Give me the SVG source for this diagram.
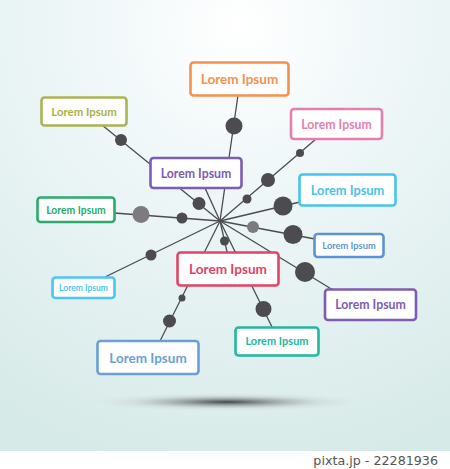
<svg xmlns="http://www.w3.org/2000/svg" width="450" height="469" viewBox="0 0 450 469">
<defs>
<radialGradient id="bg" cx="0.53" cy="0.06" r="1.0" gradientUnits="objectBoundingBox">
<stop offset="0" stop-color="#ffffff"/>
<stop offset="0.3" stop-color="#f1f8f9"/>
<stop offset="0.7" stop-color="#e2f0f0"/>
<stop offset="1" stop-color="#d6eae7"/>
</radialGradient>
<radialGradient id="sh" cx="0.5" cy="0.5" r="0.5">
<stop offset="0" stop-color="#333" stop-opacity="0.9"/>
<stop offset="0.35" stop-color="#555" stop-opacity="0.45"/>
<stop offset="0.7" stop-color="#888" stop-opacity="0.12"/>
<stop offset="1" stop-color="#aaa" stop-opacity="0"/>
</radialGradient>
</defs>
<style>
.box{fill:#ffffff;stroke-width:2.6}
.t{font-family:Lato,"Open Sans","Liberation Sans",sans-serif;font-weight:700;text-anchor:middle}
.ln{stroke:#4b4b50;stroke-width:1.3;fill:none}
.d{fill:#4b4b50}
.dl{fill:#7b7b80}
</style>
<rect x="0" y="0" width="450" height="451" fill="url(#bg)"/>
<rect x="0" y="451" width="450" height="18" fill="#ffffff"/>
<ellipse cx="227" cy="402" rx="135" ry="9" fill="url(#sh)"/>
<g id="connectors">
<line class="ln" x1="220" y1="221" x2="238" y2="95"/>
<line class="ln" x1="220" y1="221" x2="102" y2="125"/>
<line class="ln" x1="220" y1="221" x2="205" y2="188"/>
<line class="ln" x1="220" y1="221" x2="316" y2="139"/>
<line class="ln" x1="220" y1="221" x2="300" y2="202"/>
<line class="ln" x1="220" y1="221" x2="114" y2="213"/>
<line class="ln" x1="220" y1="221" x2="315" y2="239"/>
<line class="ln" x1="220" y1="221" x2="105" y2="277"/>
<line class="ln" x1="220" y1="221" x2="228" y2="256"/>
<line class="ln" x1="220" y1="221" x2="333" y2="290"/>
<line class="ln" x1="220" y1="221" x2="160" y2="341"/>
<line class="ln" x1="220" y1="221" x2="272" y2="327"/>
<circle class="d" cx="234" cy="126" r="8.5"/>
<circle class="d" cx="121" cy="140" r="6"/>
<circle class="d" cx="199" cy="203.5" r="6.5"/>
<circle class="d" cx="300" cy="153" r="4"/>
<circle class="d" cx="268" cy="180" r="7"/>
<circle class="d" cx="247" cy="199" r="4.5"/>
<circle class="d" cx="283" cy="206" r="9.5"/>
<circle class="dl" cx="141" cy="214.5" r="8.5"/>
<circle class="d" cx="182" cy="218" r="5.5"/>
<circle class="dl" cx="253" cy="227" r="6"/>
<circle class="d" cx="293" cy="234.5" r="9.5"/>
<circle class="d" cx="151" cy="255" r="5.5"/>
<circle class="d" cx="224.5" cy="241" r="4.5"/>
<circle class="d" cx="305" cy="272" r="10"/>
<circle class="d" cx="182" cy="298" r="3.5"/>
<circle class="d" cx="169.5" cy="321" r="6.5"/>
<circle class="d" cx="263.5" cy="309" r="8"/>
</g>
<g id="n-orange"><rect class="box" x="190.5" y="62.5" width="98" height="33" rx="3" stroke="#f7904f"/><text class="t" x="239.5" y="83.5" font-size="13.5" fill="#f7904f">Lorem Ipsum</text></g>
<g id="n-olive"><rect class="box" x="41.5" y="97.5" width="85" height="28" rx="3" stroke="#aab452"/><text class="t" x="84" y="115.5" font-size="11.4" fill="#a9b14a">Lorem Ipsum</text></g>
<g id="n-pink"><rect class="box" x="291" y="109" width="91" height="30" rx="3" stroke="#e47fae"/><text class="t" x="336.5" y="128.5" font-size="12.3" fill="#e47fae">Lorem Ipsum</text></g>
<g id="n-purple-top"><rect class="box" x="150.5" y="158" width="91" height="30" rx="3" stroke="#7d5cb4"/><text class="t" x="196" y="177.5" font-size="12.3" fill="#7d5cb4">Lorem Ipsum</text></g>
<g id="n-cyan"><rect class="box" x="299.5" y="174.5" width="96" height="31" rx="3" stroke="#47c4ee"/><text class="t" x="347.5" y="194.5" font-size="12.8" fill="#47c4ee">Lorem Ipsum</text></g>
<g id="n-green"><rect class="box" x="37.5" y="197.5" width="77" height="24.5" rx="3" stroke="#2baa6c"/><text class="t" x="76" y="213.5" font-size="10.4" fill="#2baa6c">Lorem Ipsum</text></g>
<g id="n-blue-small"><rect class="box" x="314.5" y="234" width="69" height="23" rx="3" stroke="#5e93d3" stroke-width="2"/><text class="t" x="349" y="248.5" font-size="9.3" fill="#5e93d3">Lorem Ipsum</text></g>
<g id="n-lightcyan"><rect class="box" x="52.5" y="277.5" width="62" height="20.5" rx="3" stroke="#4fc5ea" stroke-width="2"/><text class="t" x="83.5" y="290.5" font-size="8.5" fill="#4fc5ea">Lorem Ipsum</text></g>
<g id="n-red"><rect class="box" x="177.5" y="252.5" width="101" height="33" rx="3" stroke="#e24464" stroke-width="2.8"/><text class="t" x="228" y="273.5" font-size="13.6" fill="#e24464">Lorem Ipsum</text></g>
<g id="n-purple-br"><rect class="box" x="325" y="289.5" width="91" height="30.5" rx="3" stroke="#7d5cb4"/><text class="t" x="370.5" y="309" font-size="12.3" fill="#7d5cb4">Lorem Ipsum</text></g>
<g id="n-blue-bottom"><rect class="box" x="97.5" y="341" width="101" height="33" rx="3" stroke="#6c9fd6" stroke-width="2.8"/><text class="t" x="148" y="362.5" font-size="13.5" fill="#6c9fd6">Lorem Ipsum</text></g>
<g id="n-teal"><rect class="box" x="235.5" y="327.5" width="83" height="28" rx="3" stroke="#22b7a0"/><text class="t" x="277" y="345" font-size="11" fill="#22b7a0">Lorem Ipsum</text></g>
<text x="438" y="465" font-family="'DejaVu Sans',Verdana,sans-serif" font-size="12.7" fill="#555555" text-anchor="end">pixta.jp - 22281936</text>
</svg>
